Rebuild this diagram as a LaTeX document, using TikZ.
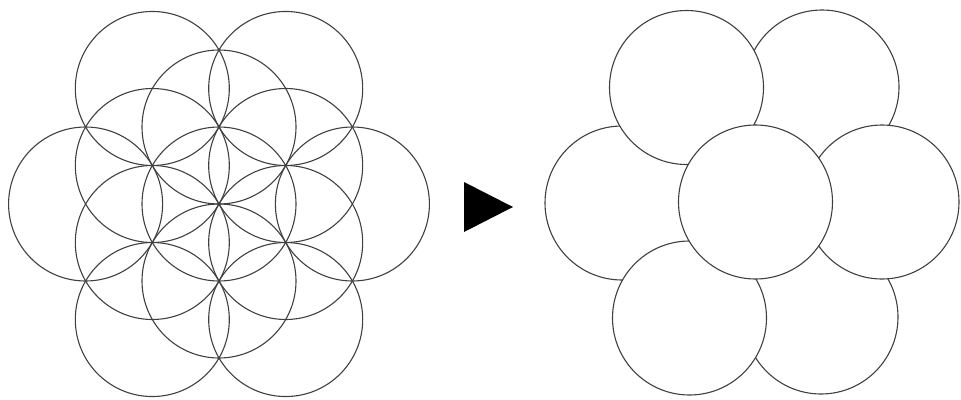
\documentclass[tikz,border=0pt]{standalone}
\usetikzlibrary{calc}
\begin{document}
\begin{tikzpicture}[x=1pt,y=-1pt,
  ring/.style={draw=black!75,line width=1.1pt},
  disc/.style={draw=black!75,line width=1.1pt,fill=white}]
\useasboundingbox (0,0) rectangle (961,399);
\begin{scope}
\clip (0,0) rectangle (961,399);
% left figure: seed of life + six outer circles
\coordinate (lc) at (219,204);
\def\rr{77}
\draw[ring] (lc) circle[radius=\rr];
\foreach \a in {30,90,150,210,270,330}
  \draw[ring] ($(lc)+(\a:\rr)$) circle[radius=\rr];
\foreach \a in {0,60,120,180,240,300}
  \draw[ring] ($(lc)+(\a:133.4)$) circle[radius=\rr];
% arrow
\coordinate (t1) at (464,182);
\coordinate (t2) at (464,232);
\coordinate (t3) at (513,207);
\fill[black] (t1) -- (t2) -- (t3) -- cycle;
% right figure: overlapping discs
\coordinate (rC) at (755.5,202);
\coordinate (rL) at (622,203);
\coordinate (rTL) at (686.5,87.5);
\coordinate (rTR) at (822,87);
\coordinate (rR) at (882,202);
\coordinate (rBL) at (689.5,318);
\coordinate (rBR) at (821,317);
\draw[disc] (rL) circle[radius=\rr];
\draw[disc] (rTR) circle[radius=\rr];
\draw[disc] (rBR) circle[radius=\rr];
\draw[disc] (rTL) circle[radius=\rr];
\draw[disc] (rR) circle[radius=\rr];
\draw[disc] (rBL) circle[radius=\rr];
\draw[disc] (rC) circle[radius=\rr];
\end{scope}
\end{tikzpicture}
\end{document}
